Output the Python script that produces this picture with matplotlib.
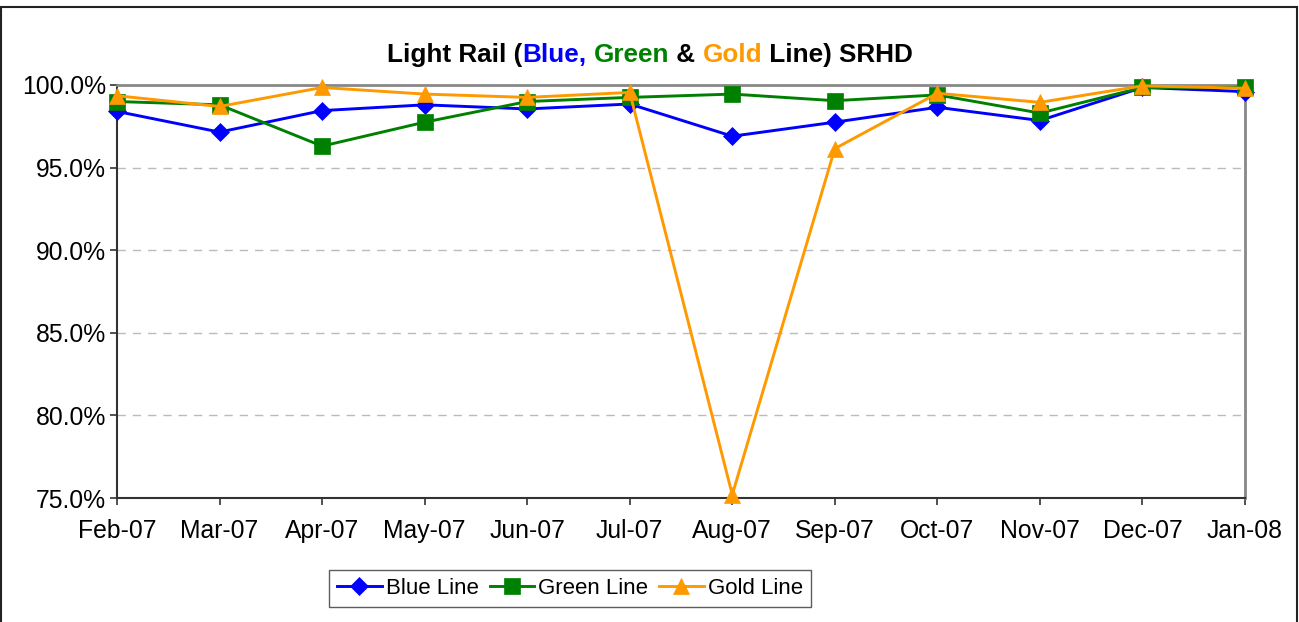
import matplotlib
matplotlib.use("Agg")
import matplotlib.pyplot as plt
from matplotlib.patches import Rectangle
from matplotlib.ticker import FuncFormatter

plt.rcParams['font.family'] = ['Liberation Sans', 'DejaVu Sans']

months = ["Feb-07", "Mar-07", "Apr-07", "May-07", "Jun-07", "Jul-07",
          "Aug-07", "Sep-07", "Oct-07", "Nov-07", "Dec-07", "Jan-08"]
blue_line = [98.4, 97.15, 98.45, 98.8, 98.55, 98.85, 96.9, 97.75, 98.65, 97.85, 99.85, 99.6]
green_line = [99.0, 98.8, 96.3, 97.75, 99.0, 99.25, 99.45, 99.05, 99.4, 98.3, 99.85, 99.85]
gold_line = [99.35, 98.7, 99.85, 99.45, 99.25, 99.55, 75.2, 96.15, 99.5, 98.95, 99.95, 99.8]

y_ticks = [75, 80, 85, 90, 95, 100]

fig = plt.figure(figsize=(12.99, 6.22), dpi=100)
W, H = 1299, 622

# outer chart frame
fig.patches.append(Rectangle((1 / W, -0.05), 1296 / W, 1 - 7 / H + 0.05,
                             transform=fig.transFigure, fill=False,
                             edgecolor='#222222', linewidth=1.5))

ax = fig.add_axes([117 / W, 1 - 498 / H, 1128 / W, 413 / H])
x = list(range(len(months)))

ax.plot(x, blue_line, color='#0000FF', lw=2.1, marker='D', markersize=9,
        markeredgewidth=0.5, label='Blue Line', clip_on=False, zorder=3)
ax.plot(x, green_line, color='#008000', lw=2.1, marker='s', markersize=11,
        markeredgewidth=0.5, label='Green Line', clip_on=False, zorder=3)
ax.plot(x, gold_line, color='#FF9900', lw=2.1, marker='^', markersize=11.5,
        markeredgewidth=0.5, label='Gold Line', clip_on=False, zorder=4)

ax.set_xlim(0, len(months) - 1)
ax.set_ylim(75, 100)
ax.set_xticks(x)
ax.set_xticklabels(months, fontsize=17.8)
ax.set_yticks(y_ticks)
ax.yaxis.set_major_formatter(FuncFormatter(lambda v, p: f"{v:.1f}%"))
ax.tick_params(axis='y', labelsize=17.8, direction='out', length=5, width=1.2,
               color='#333333', pad=3)
ax.tick_params(axis='x', direction='out', length=5, width=1.2,
               color='#333333', pad=10)

for yv in y_ticks[1:-1]:
    ax.axhline(yv, color='#BBBBBB', lw=1.0, ls=(0, (6, 5)), zorder=1)

for side in ('left', 'bottom'):
    ax.spines[side].set_color('#333333')
    ax.spines[side].set_linewidth(1.5)
for side in ('top', 'right'):
    ax.spines[side].set_color('#888888')
    ax.spines[side].set_linewidth(2)

leg = ax.legend(loc='upper center', bbox_to_anchor=(570 / W, 1 - 570 / H),
                bbox_transform=fig.transFigure, ncol=3, fontsize=16,
                frameon=True, fancybox=False, edgecolor='#333333',
                handlelength=2.0, handletextpad=0.18, columnspacing=0.5,
                borderpad=0.35, borderaxespad=0)
leg.get_frame().set_linewidth(1.0)

# multi-coloured title
pieces = [("Light Rail (", "black"), ("Blue,", "#0000FF"), (" ", "black"),
          ("Green", "#008000"), (" & ", "black"), ("Gold", "#FF9900"),
          (" Line) SRHD", "black")]
fig.canvas.draw()
renderer = fig.canvas.get_renderer()
texts = []
widths = []
for s, c in pieces:
    t = fig.text(0, 0, s, color=c, fontsize=18.8, fontweight='bold',
                 va='baseline', ha='left')
    texts.append(t)
    widths.append(t.get_window_extent(renderer).width)
total = sum(widths)
x0 = 650 - total / 2
base_y = 1 - 62 / H
for t, w in zip(texts, widths):
    t.set_position((x0 / W, base_y))
    x0 += w

fig.savefig("out.png", dpi=100)
